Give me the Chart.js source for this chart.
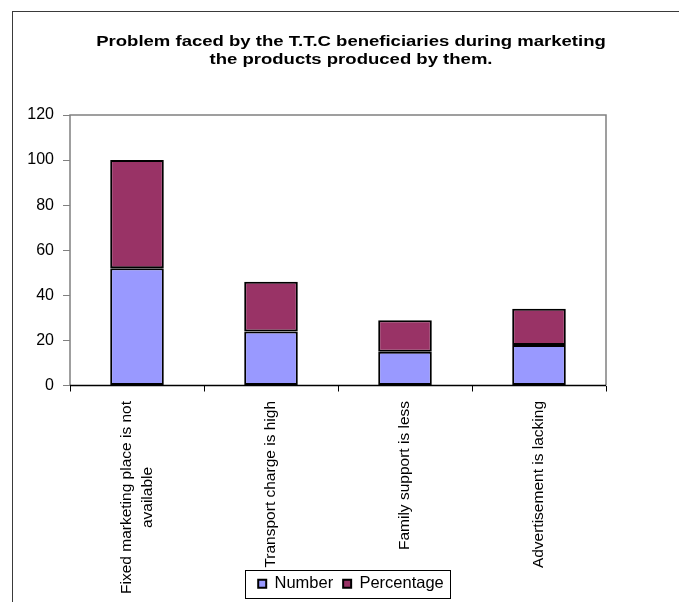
<!DOCTYPE html>
<html>
<head>
<meta charset="utf-8">
<script src="https://cdn.jsdelivr.net/npm/chart.js@4/dist/chart.umd.min.js"></script>
<style>
  html, body { margin: 0; padding: 0; background: #fff; }
  #wrap { position: relative; width: 679px; height: 602px; overflow: hidden; }
  #frame { position: absolute; left: 12px; top: 11px; width: 700px; height: 620px;
           border-left: 1px solid #3a3a3a; border-top: 1px solid #3a3a3a; pointer-events: none; }
  canvas { position: absolute; left: 0; top: 0; }
</style>
</head>
<body>
<div id="wrap">
  <canvas id="c" width="679" height="602"></canvas>
  <div id="frame"></div>
</div>
<script>
// Problems reported by T.T.C beneficiaries while marketing their products
const categories = [
  ["Fixed marketing place is not", "available"],
  ["Transport charge is high"],
  ["Family support is less"],
  ["Advertisement is lacking"]
];
const numberValues = [52, 24, 15, 18];
const percentageValues = [48, 22, 14, 16];
const yTicks = [0, 20, 40, 60, 80, 100, 120];
const titleLines = [
  "Problem faced by the T.T.C beneficiaries during marketing",
  "the products produced by them."
];

const FONT = "'Liberation Sans', Arial, sans-serif";

// Two-line bold heading, slightly widened
const heading = {
  id: 'heading',
  afterDraw(chart) {
    const { ctx } = chart;
    const cx = 351, ys = [42, 60], sx = 1.235;
    ctx.save();
    ctx.font = 'bold 15px ' + FONT;
    ctx.fillStyle = '#000';
    ctx.textAlign = 'center';
    ctx.textBaseline = 'middle';
    titleLines.forEach((t, i) => {
      ctx.save();
      ctx.translate(cx, ys[i]);
      ctx.scale(sx, 1);
      ctx.fillText(t, 0, 0);
      ctx.restore();
    });
    ctx.restore();
  }
};

// Grey frame around the plot area (bottom edge is the black x axis)
const plotFrame = {
  id: 'plotFrame',
  afterDraw(chart) {
    const { ctx, chartArea: a } = chart;
    ctx.save();
    ctx.strokeStyle = '#808080';
    ctx.lineWidth = 1.5;
    ctx.beginPath();
    ctx.moveTo(a.left, a.bottom);
    ctx.lineTo(a.left, a.top);
    ctx.lineTo(a.right, a.top);
    ctx.lineTo(a.right, a.bottom);
    ctx.stroke();
    ctx.strokeStyle = '#000';
    ctx.lineWidth = 1.5;
    ctx.beginPath();
    ctx.moveTo(a.left, a.bottom);
    ctx.lineTo(a.right, a.bottom);
    ctx.stroke();
    ctx.restore();
  }
};

// Vertical category labels, top-aligned under the axis, multi-line labels centred on the category
const categoryLabels = {
  id: 'categoryLabels',
  afterDraw(chart) {
    const { ctx } = chart;
    const xs = chart.scales.x;
    const size = 15.5, lineGap = 21, top = 401;
    ctx.save();
    ctx.font = size + 'px ' + FONT;
    ctx.fillStyle = '#000';
    ctx.textAlign = 'center';
    ctx.textBaseline = 'middle';
    categories.forEach((lines, i) => {
      const cx = xs.getPixelForValue(i);
      const blockLen = Math.max(...lines.map(l => ctx.measureText(l).width));
      lines.forEach((line, k) => {
        const lx = cx + (k - (lines.length - 1) / 2) * lineGap;
        ctx.save();
        ctx.translate(lx, top + blockLen / 2);
        ctx.rotate(-Math.PI / 2);
        ctx.fillText(line, 0, 0);
        ctx.restore();
      });
    });
    ctx.restore();
  }
};

// Thin box around the legend entries
const legendBox = {
  id: 'legendBox',
  afterDraw(chart) {
    const lg = chart.legend;
    if (!lg || !lg.legendHitBoxes || !lg.legendHitBoxes.length) return;
    const hb = lg.legendHitBoxes;
    const l = Math.min(...hb.map(b => b.left)) - 13;
    const r = Math.max(...hb.map(b => b.left + b.width)) + 6;
    const cy = hb[0].top + hb[0].height / 2;
    const { ctx } = chart;
    ctx.save();
    ctx.strokeStyle = '#000';
    ctx.lineWidth = 1;
    ctx.strokeRect(Math.round(l) + 0.5, Math.round(cy - 14) + 0.5, Math.round(r - l), 28);
    ctx.restore();
  }
};

new Chart(document.getElementById('c'), {
  type: 'bar',
  data: {
    labels: categories.map(c => c.join(' ')),
    datasets: [
      {
        label: 'Number',
        data: numberValues,
        backgroundColor: '#9999FF',
        borderColor: '#000',
        borderWidth: 2,
        borderSkipped: false
      },
      {
        label: 'Percentage',
        data: percentageValues,
        backgroundColor: '#993366',
        borderColor: '#000',
        borderWidth: 2,
        borderSkipped: false
      }
    ]
  },
  options: {
    responsive: false,
    animation: false,
    devicePixelRatio: 1,
    barPercentage: 0.4,
    categoryPercentage: 1.0,
    layout: { padding: { left: 23, right: 0, top: 115, bottom: 0 } },
    plugins: {
      tooltip: { enabled: false },
      title: { display: false },
      legend: {
        display: true,
        position: 'bottom',
        labels: {
          color: '#000',
          font: { family: FONT, size: 16.5 },
          boxWidth: 8,
          boxHeight: 8,
          padding: 10
        }
      }
    },
    scales: {
      x: {
        stacked: true,
        grid: { display: true, drawOnChartArea: false, drawTicks: true, tickLength: 6, color: '#000', offset: true },
        border: { display: false },
        ticks: { display: false },
        afterFit(s) { s.height = 180; }
      },
      y: {
        stacked: true,
        min: 0,
        max: 120,
        afterBuildTicks(s) { s.ticks = yTicks.map(v => ({ value: v })); },
        grid: { display: true, drawOnChartArea: false, drawTicks: true, tickLength: 7, color: '#808080' },
        border: { display: false },
        ticks: { color: '#000', font: { family: FONT, size: 16 }, padding: 9 },
        afterFit(s) { s.width = 47; }
      },
      spare: {
        type: 'linear',
        position: 'right',
        display: true,
        grid: { display: false },
        border: { display: false },
        ticks: { display: false },
        afterFit(s) { s.width = 73; }
      }
    }
  },
  plugins: [heading, plotFrame, categoryLabels, legendBox]
});
</script>
</body>
</html>
